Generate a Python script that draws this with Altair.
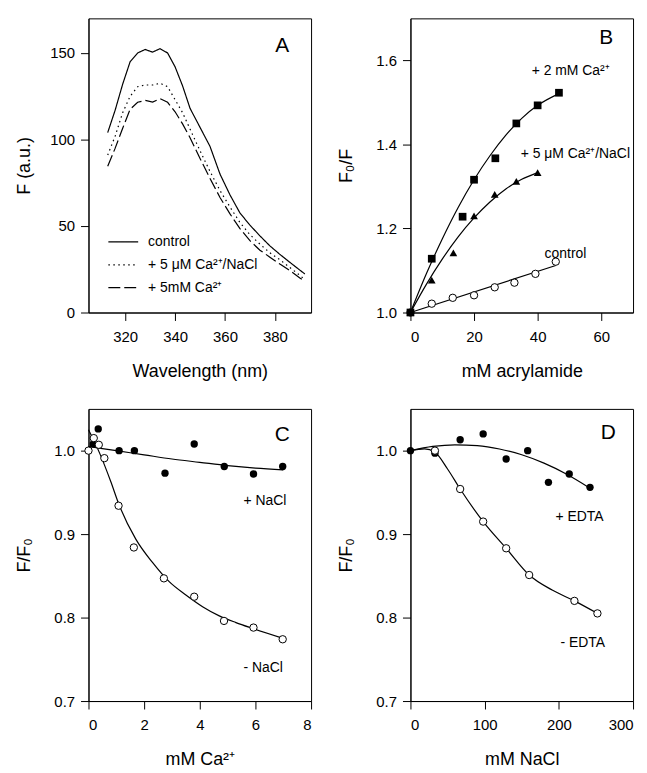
import altair as alt
import pandas as pd

FONT = "Liberation Sans"
W, H1, H2 = 224, 296, 294

# ---------------- Panel A: emission spectra ----------------
wavelength = [313, 316, 319, 322, 325, 328, 331, 334, 337, 340, 343, 346, 350,
              354, 358, 362, 366, 370, 374, 378, 382, 386, 390, 392]
f_control = [104, 117, 132, 145, 150, 152, 150.5, 152.5, 150, 142, 131, 118, 107,
             96, 80, 68, 57.5, 50.5, 44.3, 38.5, 33.6, 29, 24.5, 22.3]
f_ca_nacl = [91, 102, 115.5, 125, 130.5, 131.5, 131.5, 132.5, 130.5, 123, 115.5, 106, 93.5,
             81.5, 70.5, 61, 52, 45, 39.5, 34.5, 30.5, 26, 21.5, 19]
f_ca = [84.5, 95, 106.5, 117.5, 121.5, 122.6, 121.6, 123.6, 121.5, 116, 109, 101, 89,
        77.5, 66.5, 57, 48.5, 41.5, 36, 32, 28, 24.3, 20, 18]
series_a = ["control", "+ 5 \u03bcM Ca\u00b2\u207a/NaCl", "+ 5mM Ca\u00b2\u207a"]

# ---------------- Panel B: acrylamide quenching ----------------
sq_x = [0, 6.7, 16.4, 20, 26.7, 33.3, 40, 46.7]
sq_y = [1.0, 1.128, 1.228, 1.316, 1.367, 1.45, 1.493, 1.523]
tri_x = [0, 6.7, 13.5, 20, 26.5, 33.3, 40]
tri_y = [1.0, 1.077, 1.142, 1.23, 1.281, 1.312, 1.333]
circ_x = [0, 6.7, 13.3, 20, 26.5, 32.7, 39.3, 45.7]
circ_y = [1.0, 1.021, 1.035, 1.041, 1.060, 1.071, 1.092, 1.121]
fit_sq_x = [0, 5, 10, 15, 20, 25, 30, 35, 40, 46.7]
fit_sq_y = [1.0, 1.092, 1.175, 1.25, 1.316, 1.373, 1.422, 1.462, 1.493, 1.521]
fit_tri_x = [0, 5, 10, 15, 20, 25, 30, 35, 40]
fit_tri_y = [1.0, 1.067, 1.127, 1.18, 1.225, 1.263, 1.294, 1.317, 1.333]
fit_ctl_x = [0, 45.7]
fit_ctl_y = [1.0, 1.112]

# ---------------- Panel C: Ca2+ titration ----------------
c_plus_x = [0.17, 0.35, 1.1, 1.65, 2.75, 3.8, 4.88, 5.93, 6.98]
c_plus_y = [1.008, 1.026, 1.0, 1.0, 0.973, 1.008, 0.981, 0.972, 0.981]
c_minus_x = [0, 0.19, 0.37, 0.57, 1.08, 1.63, 2.71, 3.8, 4.87, 5.93, 6.98]
c_minus_y = [1.0, 1.015, 1.007, 0.991, 0.934, 0.884, 0.847, 0.825, 0.796, 0.788, 0.774]
fit_c_plus_x = [0, 1, 2, 3, 4, 5, 6, 7]
fit_c_plus_y = [1.005, 1.0, 0.995, 0.99, 0.986, 0.982, 0.979, 0.977]
fit_c_minus_x = [0, 0.4, 0.8, 1.1, 1.7, 2.3, 2.9, 3.5, 4.1, 4.7, 5.3, 5.9, 7.0]
fit_c_minus_y = [1.025, 0.997, 0.963, 0.935, 0.894, 0.866, 0.843, 0.827, 0.813, 0.802, 0.794, 0.787, 0.775]

# ---------------- Panel D: NaCl titration ----------------
d_plus_x = [0, 33, 67, 98, 129, 158, 186, 214, 242]
d_plus_y = [1.0, 0.997, 1.013, 1.02, 0.99, 1.0, 0.962, 0.972, 0.956]
d_minus_x = [33, 67, 98, 129, 160, 221, 252]
d_minus_y = [1.0, 0.954, 0.915, 0.883, 0.851, 0.82, 0.805]
fit_d_plus_x = [0, 30, 60, 90, 120, 150, 180, 210, 242]
fit_d_plus_y = [1.0, 1.005, 1.007, 1.006, 1.002, 0.995, 0.985, 0.972, 0.955]
fit_d_minus_x = [0, 19, 33, 50, 67, 98, 129, 160, 191, 221, 252]
fit_d_minus_y = [1.0, 1.002, 0.998, 0.978, 0.954, 0.915, 0.883, 0.851, 0.833, 0.82, 0.805]


def xaxis(title, values, fmt=None):
    kw = dict(title=title, values=values, tickSize=8, labelPadding=9, titlePadding=18)
    if fmt:
        kw["format"] = fmt
    return alt.Axis(**kw)


def yaxis(title, values, fmt=None):
    kw = dict(title=title, values=values, tickSize=8, labelPadding=6, titlePadding=15,
              minExtent=40, maxExtent=40)
    if fmt:
        kw["format"] = fmt
    return alt.Axis(**kw)


def label(txt, px, py, size=14, align="left"):
    return alt.Chart(pd.DataFrame({"t": [txt]})).mark_text(
        font=FONT, fontSize=size, align=align, baseline="middle", color="black"
    ).encode(text="t:N", x=alt.value(px), y=alt.value(py))


def curves(xs, ys, names):
    rows = []
    for x, y, n in zip(xs, ys, names):
        for a, b in zip(x, y):
            rows.append({"x": a, "y": b, "s": n})
    return pd.DataFrame(rows)


def pts(x, y):
    return pd.DataFrame({"x": x, "y": y})


# ---------- Panel A ----------
rows_a = []
for name, vals in zip(series_a, [f_control, f_ca_nacl, f_ca]):
    for w, v in zip(wavelength, vals):
        rows_a.append({"wl": w, "F": v, "s": name})
df_a = pd.DataFrame(rows_a)

xa = alt.X("wl:Q", scale=alt.Scale(domain=[305.3, 394.5], nice=False, zero=False),
           axis=xaxis("Wavelength (nm)", [320, 340, 360, 380]))
ya = alt.Y("F:Q", scale=alt.Scale(domain=[0, 170], nice=False),
           axis=yaxis("F (a.u.)", [0, 50, 100, 150]))

lines_a = alt.Chart(df_a).mark_line(color="black", strokeWidth=1.2).encode(
    x=xa, y=ya,
    strokeDash=alt.StrokeDash(
        "s:N",
        scale=alt.Scale(domain=series_a, range=[[1, 0], [1.5, 3.5], [12, 4]]),
        legend=alt.Legend(title=None, orient="none", legendX=19, legendY=209,
                          symbolType="stroke", symbolSize=900, symbolStrokeWidth=1.2,
                          symbolStrokeColor="black", labelFont=FONT, labelFontSize=14,
                          labelColor="black", labelOffset=9, rowPadding=0, padding=0),
    ),
    detail="s:N",
)
panel_a = alt.layer(lines_a, label("A", 195, 28, 21, "center")).properties(width=W, height=H1)

# ---------- Panel B ----------
xb = alt.X("x:Q", scale=alt.Scale(domain=[0, 70], nice=False),
           axis=xaxis("mM acrylamide", [0, 20, 40, 60]))
yb = alt.Y("y:Q", scale=alt.Scale(domain=[1.0, 1.7], nice=False, zero=False),
           axis=yaxis("F\u2080/F", [1.0, 1.2, 1.4, 1.6], ".1f"))

fits_b = curves([fit_sq_x, fit_tri_x, fit_ctl_x], [fit_sq_y, fit_tri_y, fit_ctl_y],
                ["sq", "tri", "ctl"])
line_b = alt.Chart(fits_b).mark_line(color="black", strokeWidth=1.2, interpolate="monotone").encode(
    x=xb, y=yb, detail="s:N")
circ_b = alt.Chart(pts(circ_x, circ_y)).mark_point(
    shape="circle", filled=True, fill="white", stroke="black", strokeWidth=1, size=55, opacity=1
).encode(x=xb, y=yb)
tri_b = alt.Chart(pts(tri_x, tri_y)).mark_point(
    shape="triangle-up", filled=True, color="black", size=60, opacity=1).encode(x=xb, y=yb)
sq_b = alt.Chart(pts(sq_x, sq_y)).mark_point(
    shape="square", filled=True, color="black", size=60, opacity=1).encode(x=xb, y=yb)
panel_b = alt.layer(
    line_b, circ_b, tri_b, sq_b,
    label("+ 2 mM Ca\u00b2\u207a", 122, 53),
    label("+ 5 \u03bcM Ca\u00b2\u207a/NaCl", 111, 137),
    label("control", 156, 237, 14, "center"),
    label("B", 197, 20, 21, "center"),
).properties(width=W, height=H1)

# ---------- Panel C ----------
xc = alt.X("x:Q", scale=alt.Scale(domain=[0, 8], nice=False),
           axis=xaxis("mM Ca\u00b2\u207a", [0, 2, 4, 6, 8]))
yc = alt.Y("y:Q", scale=alt.Scale(domain=[0.7, 1.05], nice=False, zero=False),
           axis=yaxis("F/F\u2080", [0.7, 0.8, 0.9, 1.0], ".1f"))
fits_c = curves([fit_c_plus_x, fit_c_minus_x], [fit_c_plus_y, fit_c_minus_y], ["plus", "minus"])
line_c = alt.Chart(fits_c).mark_line(color="black", strokeWidth=1.2, interpolate="monotone").encode(
    x=xc, y=yc, detail="s:N")
fill_c = alt.Chart(pts(c_plus_x, c_plus_y)).mark_circle(color="black", size=55, opacity=1).encode(x=xc, y=yc)
open_c = alt.Chart(pts(c_minus_x, c_minus_y)).mark_point(
    shape="circle", filled=True, fill="white", stroke="black", strokeWidth=1, size=55, opacity=1
).encode(x=xc, y=yc)
panel_c = alt.layer(
    line_c, fill_c, open_c,
    label("+ NaCl", 156, 93),
    label("- NaCl", 156, 261),
    label("C", 195, 26, 21, "center"),
).properties(width=W, height=H2)

# ---------- Panel D ----------
xd = alt.X("x:Q", scale=alt.Scale(domain=[0, 300], nice=False),
           axis=xaxis("mM NaCl", [0, 100, 200, 300]))
yd = alt.Y("y:Q", scale=alt.Scale(domain=[0.7, 1.05], nice=False, zero=False),
           axis=yaxis("F/F\u2080", [0.7, 0.8, 0.9, 1.0], ".1f"))
fits_d = curves([fit_d_plus_x, fit_d_minus_x], [fit_d_plus_y, fit_d_minus_y], ["plus", "minus"])
line_d = alt.Chart(fits_d).mark_line(color="black", strokeWidth=1.2, interpolate="monotone").encode(
    x=xd, y=yd, detail="s:N")
fill_d = alt.Chart(pts(d_plus_x, d_plus_y)).mark_circle(color="black", size=55, opacity=1).encode(x=xd, y=yd)
open_d = alt.Chart(pts(d_minus_x, d_minus_y)).mark_point(
    shape="circle", filled=True, fill="white", stroke="black", strokeWidth=1, size=55, opacity=1
).encode(x=xd, y=yd)
panel_d = alt.layer(
    line_d, fill_d, open_d,
    label("+ EDTA", 146, 109),
    label("- EDTA", 151, 236),
    label("D", 199, 24, 21, "center"),
).properties(width=W, height=H2)

row1 = alt.hconcat(panel_a, panel_b, spacing=25)
row2 = alt.hconcat(panel_c, panel_d, spacing=25)

chart = alt.vconcat(row1, row2, spacing=27).properties(
    padding={"left": 7, "top": 7, "right": 5, "bottom": 5},
    background="white",
).configure_axis(
    labelFont=FONT, titleFont=FONT, labelFontSize=15, titleFontSize=18,
    titleFontWeight="normal", labelColor="black", titleColor="black",
    domainColor="black", tickColor="black", grid=False, domainWidth=1, tickWidth=1,
).configure_view(stroke="black", strokeWidth=1)

chart.save("out.html", embed_options={"renderer": "svg", "actions": False})
